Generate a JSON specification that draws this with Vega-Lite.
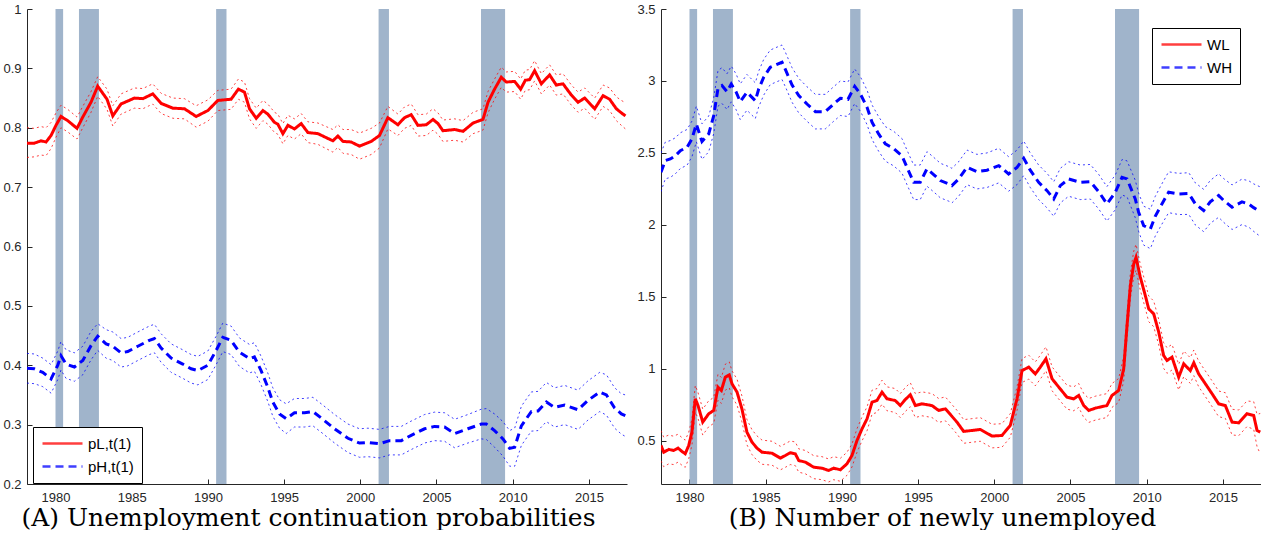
{
  "$schema": "https://vega.github.io/schema/vega-lite/v6.json",
  "background": "white",
  "padding": {"left": 2, "top": 3, "right": 0, "bottom": 0},
  "spacing": 9,
  "resolve": {"scale": {"color": "independent", "strokeDash": "independent"}, "legend": {"color": "independent", "strokeDash": "independent"}},
  "config": {
    "view": {"stroke": null},
    "axis": {
      "grid": false,
      "domainColor": "#262626",
      "tickColor": "#262626",
      "labelColor": "#262626",
      "labelFont": "Liberation Sans",
      "labelFontSize": 13,
      "tickSize": -5,
      "domainWidth": 1,
      "tickWidth": 1,
      "titleFont": "DejaVu Serif",
      "titleFontSize": 25,
      "titleFontWeight": "normal",
      "titleColor": "#000000"
    },
    "legend": {
      "orient": "none",
      "title": null,
      "strokeColor": "#000000",
      "fillColor": "#ffffff",
      "padding": 8,
      "labelFont": "Liberation Sans",
      "labelFontSize": 15,
      "labelColor": "#000000",
      "symbolStrokeWidth": 2.5,
      "symbolSize": 1600,
      "clipHeight": 17,
      "rowPadding": 6,
      "symbolOffset": 0,
      "labelOffset": 4
    }
  },
  "datasets": {
    "rec": [
      {"s": 1980.0, "e": 1980.5},
      {"s": 1981.54, "e": 1982.85},
      {"s": 1990.54, "e": 1991.22},
      {"s": 2001.2, "e": 2001.88},
      {"s": 2007.92, "e": 2009.5}
    ],
    "a": [
      {"g":"L","t":1978.13,"v":0.774,"lo":0.750,"hi":0.800},
      {"g":"L","t":1978.61,"v":0.774,"lo":0.751,"hi":0.799},
      {"g":"L","t":1979.05,"v":0.778,"lo":0.754,"hi":0.802},
      {"g":"L","t":1979.38,"v":0.776,"lo":0.753,"hi":0.800},
      {"g":"L","t":1979.71,"v":0.787,"lo":0.765,"hi":0.809},
      {"g":"L","t":1980.03,"v":0.804,"lo":0.784,"hi":0.825},
      {"g":"L","t":1980.36,"v":0.819,"lo":0.800,"hi":0.838},
      {"g":"L","t":1980.80,"v":0.812,"lo":0.793,"hi":0.831},
      {"g":"L","t":1981.41,"v":0.799,"lo":0.781,"hi":0.818},
      {"g":"L","t":1981.79,"v":0.818,"lo":0.800,"hi":0.836},
      {"g":"L","t":1982.33,"v":0.843,"lo":0.826,"hi":0.861},
      {"g":"L","t":1982.77,"v":0.870,"lo":0.853,"hi":0.886},
      {"g":"L","t":1983.38,"v":0.848,"lo":0.831,"hi":0.865},
      {"g":"L","t":1983.76,"v":0.820,"lo":0.803,"hi":0.837},
      {"g":"L","t":1984.30,"v":0.840,"lo":0.823,"hi":0.857},
      {"g":"L","t":1985.18,"v":0.850,"lo":0.833,"hi":0.867},
      {"g":"L","t":1985.73,"v":0.849,"lo":0.832,"hi":0.866},
      {"g":"L","t":1986.38,"v":0.857,"lo":0.840,"hi":0.874},
      {"g":"L","t":1986.93,"v":0.841,"lo":0.824,"hi":0.858},
      {"g":"L","t":1987.70,"v":0.833,"lo":0.816,"hi":0.850},
      {"g":"L","t":1988.46,"v":0.832,"lo":0.815,"hi":0.849},
      {"g":"L","t":1989.23,"v":0.819,"lo":0.801,"hi":0.837},
      {"g":"L","t":1990.00,"v":0.829,"lo":0.811,"hi":0.847},
      {"g":"L","t":1990.65,"v":0.846,"lo":0.829,"hi":0.863},
      {"g":"L","t":1991.52,"v":0.848,"lo":0.831,"hi":0.865},
      {"g":"L","t":1992.00,"v":0.865,"lo":0.848,"hi":0.882},
      {"g":"L","t":1992.40,"v":0.860,"lo":0.843,"hi":0.877},
      {"g":"L","t":1992.73,"v":0.832,"lo":0.815,"hi":0.849},
      {"g":"L","t":1993.17,"v":0.816,"lo":0.799,"hi":0.833},
      {"g":"L","t":1993.61,"v":0.829,"lo":0.812,"hi":0.846},
      {"g":"L","t":1993.93,"v":0.823,"lo":0.806,"hi":0.840},
      {"g":"L","t":1994.37,"v":0.809,"lo":0.792,"hi":0.826},
      {"g":"L","t":1994.59,"v":0.806,"lo":0.789,"hi":0.823},
      {"g":"L","t":1994.92,"v":0.790,"lo":0.773,"hi":0.807},
      {"g":"L","t":1995.25,"v":0.804,"lo":0.787,"hi":0.821},
      {"g":"L","t":1995.68,"v":0.798,"lo":0.781,"hi":0.815},
      {"g":"L","t":1996.12,"v":0.807,"lo":0.790,"hi":0.824},
      {"g":"L","t":1996.56,"v":0.792,"lo":0.775,"hi":0.810},
      {"g":"L","t":1997.22,"v":0.790,"lo":0.772,"hi":0.808},
      {"g":"L","t":1998.20,"v":0.778,"lo":0.759,"hi":0.797},
      {"g":"L","t":1998.53,"v":0.786,"lo":0.767,"hi":0.805},
      {"g":"L","t":1998.86,"v":0.777,"lo":0.757,"hi":0.797},
      {"g":"L","t":1999.40,"v":0.776,"lo":0.755,"hi":0.797},
      {"g":"L","t":1999.95,"v":0.769,"lo":0.747,"hi":0.791},
      {"g":"L","t":2000.72,"v":0.777,"lo":0.755,"hi":0.799},
      {"g":"L","t":2001.26,"v":0.787,"lo":0.766,"hi":0.808},
      {"g":"L","t":2001.81,"v":0.817,"lo":0.798,"hi":0.836},
      {"g":"L","t":2002.47,"v":0.805,"lo":0.787,"hi":0.823},
      {"g":"L","t":2002.90,"v":0.817,"lo":0.799,"hi":0.835},
      {"g":"L","t":2003.34,"v":0.822,"lo":0.804,"hi":0.840},
      {"g":"L","t":2003.78,"v":0.804,"lo":0.786,"hi":0.822},
      {"g":"L","t":2004.33,"v":0.805,"lo":0.787,"hi":0.823},
      {"g":"L","t":2004.77,"v":0.814,"lo":0.796,"hi":0.832},
      {"g":"L","t":2005.10,"v":0.807,"lo":0.789,"hi":0.825},
      {"g":"L","t":2005.42,"v":0.795,"lo":0.777,"hi":0.813},
      {"g":"L","t":2006.19,"v":0.797,"lo":0.779,"hi":0.815},
      {"g":"L","t":2006.74,"v":0.794,"lo":0.776,"hi":0.812},
      {"g":"L","t":2007.40,"v":0.808,"lo":0.790,"hi":0.826},
      {"g":"L","t":2008.05,"v":0.814,"lo":0.796,"hi":0.832},
      {"g":"L","t":2008.38,"v":0.843,"lo":0.825,"hi":0.861},
      {"g":"L","t":2008.81,"v":0.865,"lo":0.848,"hi":0.882},
      {"g":"L","t":2009.25,"v":0.885,"lo":0.868,"hi":0.902},
      {"g":"L","t":2009.58,"v":0.877,"lo":0.860,"hi":0.894},
      {"g":"L","t":2010.13,"v":0.878,"lo":0.861,"hi":0.895},
      {"g":"L","t":2010.52,"v":0.865,"lo":0.848,"hi":0.882},
      {"g":"L","t":2010.83,"v":0.880,"lo":0.863,"hi":0.897},
      {"g":"L","t":2011.11,"v":0.881,"lo":0.864,"hi":0.898},
      {"g":"L","t":2011.44,"v":0.896,"lo":0.879,"hi":0.913},
      {"g":"L","t":2011.88,"v":0.874,"lo":0.857,"hi":0.891},
      {"g":"L","t":2012.42,"v":0.889,"lo":0.872,"hi":0.906},
      {"g":"L","t":2012.86,"v":0.872,"lo":0.855,"hi":0.889},
      {"g":"L","t":2013.30,"v":0.874,"lo":0.857,"hi":0.891},
      {"g":"L","t":2013.85,"v":0.855,"lo":0.838,"hi":0.872},
      {"g":"L","t":2014.29,"v":0.843,"lo":0.826,"hi":0.860},
      {"g":"L","t":2014.72,"v":0.850,"lo":0.833,"hi":0.867},
      {"g":"L","t":2015.38,"v":0.832,"lo":0.814,"hi":0.850},
      {"g":"L","t":2015.93,"v":0.854,"lo":0.836,"hi":0.872},
      {"g":"L","t":2016.36,"v":0.848,"lo":0.829,"hi":0.867},
      {"g":"L","t":2016.80,"v":0.832,"lo":0.812,"hi":0.852},
      {"g":"L","t":2017.13,"v":0.825,"lo":0.804,"hi":0.846},
      {"g":"L","t":2017.40,"v":0.820,"lo":0.798,"hi":0.842},
      {"g":"H","t":1978.13,"v":0.395,"lo":0.370,"hi":0.420},
      {"g":"H","t":1978.61,"v":0.394,"lo":0.369,"hi":0.419},
      {"g":"H","t":1979.16,"v":0.388,"lo":0.364,"hi":0.412},
      {"g":"H","t":1979.71,"v":0.377,"lo":0.353,"hi":0.401},
      {"g":"H","t":1980.15,"v":0.400,"lo":0.376,"hi":0.424},
      {"g":"H","t":1980.36,"v":0.416,"lo":0.392,"hi":0.440},
      {"g":"H","t":1980.69,"v":0.402,"lo":0.378,"hi":0.426},
      {"g":"H","t":1981.24,"v":0.397,"lo":0.373,"hi":0.421},
      {"g":"H","t":1981.79,"v":0.408,"lo":0.384,"hi":0.432},
      {"g":"H","t":1982.33,"v":0.433,"lo":0.409,"hi":0.457},
      {"g":"H","t":1982.77,"v":0.449,"lo":0.425,"hi":0.470},
      {"g":"H","t":1983.32,"v":0.436,"lo":0.412,"hi":0.460},
      {"g":"H","t":1983.76,"v":0.432,"lo":0.408,"hi":0.456},
      {"g":"H","t":1984.30,"v":0.421,"lo":0.397,"hi":0.445},
      {"g":"H","t":1984.74,"v":0.423,"lo":0.399,"hi":0.447},
      {"g":"H","t":1985.40,"v":0.432,"lo":0.408,"hi":0.456},
      {"g":"H","t":1986.16,"v":0.442,"lo":0.418,"hi":0.466},
      {"g":"H","t":1986.49,"v":0.445,"lo":0.421,"hi":0.469},
      {"g":"H","t":1986.93,"v":0.429,"lo":0.405,"hi":0.453},
      {"g":"H","t":1987.59,"v":0.412,"lo":0.388,"hi":0.436},
      {"g":"H","t":1988.35,"v":0.402,"lo":0.378,"hi":0.426},
      {"g":"H","t":1988.90,"v":0.394,"lo":0.370,"hi":0.418},
      {"g":"H","t":1989.34,"v":0.391,"lo":0.367,"hi":0.415},
      {"g":"H","t":1990.00,"v":0.400,"lo":0.376,"hi":0.424},
      {"g":"H","t":1990.54,"v":0.425,"lo":0.401,"hi":0.449},
      {"g":"H","t":1990.98,"v":0.447,"lo":0.423,"hi":0.471},
      {"g":"H","t":1991.52,"v":0.442,"lo":0.418,"hi":0.466},
      {"g":"H","t":1992.07,"v":0.422,"lo":0.398,"hi":0.446},
      {"g":"H","t":1992.73,"v":0.411,"lo":0.387,"hi":0.435},
      {"g":"H","t":1993.05,"v":0.414,"lo":0.390,"hi":0.438},
      {"g":"H","t":1993.49,"v":0.391,"lo":0.367,"hi":0.415},
      {"g":"H","t":1993.93,"v":0.363,"lo":0.339,"hi":0.387},
      {"g":"H","t":1994.26,"v":0.338,"lo":0.314,"hi":0.362},
      {"g":"H","t":1994.70,"v":0.318,"lo":0.294,"hi":0.342},
      {"g":"H","t":1995.14,"v":0.310,"lo":0.285,"hi":0.335},
      {"g":"H","t":1995.68,"v":0.320,"lo":0.296,"hi":0.344},
      {"g":"H","t":1996.34,"v":0.320,"lo":0.296,"hi":0.344},
      {"g":"H","t":1996.89,"v":0.322,"lo":0.298,"hi":0.346},
      {"g":"H","t":1997.54,"v":0.309,"lo":0.285,"hi":0.333},
      {"g":"H","t":1998.31,"v":0.293,"lo":0.269,"hi":0.317},
      {"g":"H","t":1999.19,"v":0.277,"lo":0.253,"hi":0.301},
      {"g":"H","t":1999.95,"v":0.269,"lo":0.245,"hi":0.293},
      {"g":"H","t":2000.50,"v":0.270,"lo":0.246,"hi":0.294},
      {"g":"H","t":2001.26,"v":0.268,"lo":0.244,"hi":0.292},
      {"g":"H","t":2001.92,"v":0.273,"lo":0.249,"hi":0.297},
      {"g":"H","t":2002.69,"v":0.273,"lo":0.249,"hi":0.297},
      {"g":"H","t":2003.34,"v":0.282,"lo":0.258,"hi":0.306},
      {"g":"H","t":2004.22,"v":0.293,"lo":0.269,"hi":0.317},
      {"g":"H","t":2004.87,"v":0.297,"lo":0.273,"hi":0.321},
      {"g":"H","t":2005.53,"v":0.296,"lo":0.272,"hi":0.320},
      {"g":"H","t":2006.19,"v":0.285,"lo":0.261,"hi":0.309},
      {"g":"H","t":2007.06,"v":0.293,"lo":0.269,"hi":0.317},
      {"g":"H","t":2007.94,"v":0.301,"lo":0.276,"hi":0.326},
      {"g":"H","t":2008.27,"v":0.301,"lo":0.275,"hi":0.327},
      {"g":"H","t":2008.81,"v":0.290,"lo":0.262,"hi":0.318},
      {"g":"H","t":2009.36,"v":0.276,"lo":0.247,"hi":0.305},
      {"g":"H","t":2009.80,"v":0.260,"lo":0.230,"hi":0.290},
      {"g":"H","t":2010.13,"v":0.262,"lo":0.230,"hi":0.294},
      {"g":"H","t":2010.57,"v":0.298,"lo":0.265,"hi":0.331},
      {"g":"H","t":2011.22,"v":0.322,"lo":0.289,"hi":0.355},
      {"g":"H","t":2011.66,"v":0.323,"lo":0.290,"hi":0.356},
      {"g":"H","t":2012.21,"v":0.338,"lo":0.305,"hi":0.371},
      {"g":"H","t":2012.75,"v":0.329,"lo":0.296,"hi":0.362},
      {"g":"H","t":2013.41,"v":0.333,"lo":0.300,"hi":0.366},
      {"g":"H","t":2014.29,"v":0.325,"lo":0.292,"hi":0.358},
      {"g":"H","t":2014.95,"v":0.341,"lo":0.308,"hi":0.374},
      {"g":"H","t":2015.71,"v":0.355,"lo":0.322,"hi":0.388},
      {"g":"H","t":2016.15,"v":0.350,"lo":0.316,"hi":0.384},
      {"g":"H","t":2016.69,"v":0.328,"lo":0.294,"hi":0.362},
      {"g":"H","t":2017.13,"v":0.318,"lo":0.284,"hi":0.352},
      {"g":"H","t":2017.40,"v":0.315,"lo":0.280,"hi":0.350}
    ],
    "b": [
      {"g":"L","t":1978.13,"v":0.468,"lo":0.360,"hi":0.570},
      {"g":"L","t":1978.31,"v":0.421,"lo":0.320,"hi":0.525},
      {"g":"L","t":1978.64,"v":0.440,"lo":0.340,"hi":0.540},
      {"g":"L","t":1978.96,"v":0.433,"lo":0.335,"hi":0.532},
      {"g":"L","t":1979.25,"v":0.449,"lo":0.352,"hi":0.546},
      {"g":"L","t":1979.51,"v":0.426,"lo":0.330,"hi":0.522},
      {"g":"L","t":1979.72,"v":0.410,"lo":0.316,"hi":0.505},
      {"g":"L","t":1979.95,"v":0.468,"lo":0.376,"hi":0.560},
      {"g":"L","t":1980.16,"v":0.560,"lo":0.470,"hi":0.650},
      {"g":"L","t":1980.38,"v":0.792,"lo":0.700,"hi":0.884},
      {"g":"L","t":1980.56,"v":0.745,"lo":0.655,"hi":0.835},
      {"g":"L","t":1980.87,"v":0.630,"lo":0.540,"hi":0.720},
      {"g":"L","t":1981.26,"v":0.688,"lo":0.598,"hi":0.778},
      {"g":"L","t":1981.59,"v":0.711,"lo":0.621,"hi":0.801},
      {"g":"L","t":1981.87,"v":0.873,"lo":0.783,"hi":0.963},
      {"g":"L","t":1982.09,"v":0.850,"lo":0.760,"hi":0.940},
      {"g":"L","t":1982.35,"v":0.942,"lo":0.852,"hi":1.032},
      {"g":"L","t":1982.61,"v":0.958,"lo":0.868,"hi":1.048},
      {"g":"L","t":1982.79,"v":0.896,"lo":0.806,"hi":0.986},
      {"g":"L","t":1983.12,"v":0.838,"lo":0.748,"hi":0.928},
      {"g":"L","t":1983.44,"v":0.722,"lo":0.632,"hi":0.812},
      {"g":"L","t":1983.77,"v":0.560,"lo":0.472,"hi":0.648},
      {"g":"L","t":1984.10,"v":0.491,"lo":0.405,"hi":0.577},
      {"g":"L","t":1984.43,"v":0.449,"lo":0.364,"hi":0.534},
      {"g":"L","t":1984.76,"v":0.421,"lo":0.337,"hi":0.505},
      {"g":"L","t":1985.41,"v":0.414,"lo":0.331,"hi":0.497},
      {"g":"L","t":1985.96,"v":0.380,"lo":0.298,"hi":0.462},
      {"g":"L","t":1986.29,"v":0.398,"lo":0.316,"hi":0.480},
      {"g":"L","t":1986.61,"v":0.417,"lo":0.335,"hi":0.499},
      {"g":"L","t":1986.94,"v":0.410,"lo":0.328,"hi":0.492},
      {"g":"L","t":1987.17,"v":0.363,"lo":0.282,"hi":0.444},
      {"g":"L","t":1987.60,"v":0.352,"lo":0.271,"hi":0.433},
      {"g":"L","t":1988.15,"v":0.317,"lo":0.237,"hi":0.397},
      {"g":"L","t":1988.69,"v":0.310,"lo":0.230,"hi":0.390},
      {"g":"L","t":1989.13,"v":0.294,"lo":0.214,"hi":0.374},
      {"g":"L","t":1989.46,"v":0.310,"lo":0.230,"hi":0.390},
      {"g":"L","t":1989.90,"v":0.299,"lo":0.219,"hi":0.379},
      {"g":"L","t":1990.33,"v":0.340,"lo":0.260,"hi":0.420},
      {"g":"L","t":1990.66,"v":0.398,"lo":0.318,"hi":0.478},
      {"g":"L","t":1990.99,"v":0.502,"lo":0.420,"hi":0.584},
      {"g":"L","t":1991.32,"v":0.583,"lo":0.500,"hi":0.666},
      {"g":"L","t":1991.65,"v":0.653,"lo":0.570,"hi":0.736},
      {"g":"L","t":1991.98,"v":0.769,"lo":0.686,"hi":0.852},
      {"g":"L","t":1992.30,"v":0.780,"lo":0.697,"hi":0.863},
      {"g":"L","t":1992.63,"v":0.838,"lo":0.755,"hi":0.921},
      {"g":"L","t":1992.96,"v":0.792,"lo":0.709,"hi":0.875},
      {"g":"L","t":1993.50,"v":0.780,"lo":0.697,"hi":0.863},
      {"g":"L","t":1993.83,"v":0.745,"lo":0.662,"hi":0.828},
      {"g":"L","t":1994.16,"v":0.787,"lo":0.704,"hi":0.870},
      {"g":"L","t":1994.49,"v":0.820,"lo":0.737,"hi":0.903},
      {"g":"L","t":1994.82,"v":0.745,"lo":0.662,"hi":0.828},
      {"g":"L","t":1995.26,"v":0.757,"lo":0.674,"hi":0.840},
      {"g":"L","t":1995.91,"v":0.745,"lo":0.662,"hi":0.828},
      {"g":"L","t":1996.35,"v":0.711,"lo":0.628,"hi":0.794},
      {"g":"L","t":1996.79,"v":0.722,"lo":0.639,"hi":0.805},
      {"g":"L","t":1997.22,"v":0.670,"lo":0.588,"hi":0.752},
      {"g":"L","t":1997.55,"v":0.630,"lo":0.548,"hi":0.712},
      {"g":"L","t":1997.99,"v":0.565,"lo":0.483,"hi":0.647},
      {"g":"L","t":1998.53,"v":0.572,"lo":0.490,"hi":0.654},
      {"g":"L","t":1999.08,"v":0.579,"lo":0.497,"hi":0.661},
      {"g":"L","t":1999.85,"v":0.533,"lo":0.451,"hi":0.615},
      {"g":"L","t":2000.50,"v":0.537,"lo":0.455,"hi":0.619},
      {"g":"L","t":2001.05,"v":0.607,"lo":0.525,"hi":0.689},
      {"g":"L","t":2001.49,"v":0.792,"lo":0.710,"hi":0.874},
      {"g":"L","t":2001.82,"v":0.988,"lo":0.905,"hi":1.071},
      {"g":"L","t":2002.26,"v":1.012,"lo":0.929,"hi":1.095},
      {"g":"L","t":2002.69,"v":0.965,"lo":0.882,"hi":1.048},
      {"g":"L","t":2003.02,"v":1.012,"lo":0.929,"hi":1.095},
      {"g":"L","t":2003.39,"v":1.070,"lo":0.987,"hi":1.153},
      {"g":"L","t":2003.79,"v":0.931,"lo":0.848,"hi":1.014},
      {"g":"L","t":2004.23,"v":0.873,"lo":0.790,"hi":0.956},
      {"g":"L","t":2004.77,"v":0.803,"lo":0.720,"hi":0.886},
      {"g":"L","t":2005.21,"v":0.792,"lo":0.709,"hi":0.875},
      {"g":"L","t":2005.54,"v":0.815,"lo":0.732,"hi":0.898},
      {"g":"L","t":2005.87,"v":0.745,"lo":0.662,"hi":0.828},
      {"g":"L","t":2006.20,"v":0.711,"lo":0.628,"hi":0.794},
      {"g":"L","t":2006.63,"v":0.727,"lo":0.644,"hi":0.810},
      {"g":"L","t":2006.96,"v":0.735,"lo":0.652,"hi":0.818},
      {"g":"L","t":2007.39,"v":0.745,"lo":0.662,"hi":0.828},
      {"g":"L","t":2007.72,"v":0.815,"lo":0.732,"hi":0.898},
      {"g":"L","t":2008.16,"v":0.850,"lo":0.767,"hi":0.933},
      {"g":"L","t":2008.49,"v":1.000,"lo":0.915,"hi":1.085},
      {"g":"L","t":2008.71,"v":1.301,"lo":1.214,"hi":1.388},
      {"g":"L","t":2008.93,"v":1.579,"lo":1.490,"hi":1.668},
      {"g":"L","t":2009.15,"v":1.729,"lo":1.640,"hi":1.818},
      {"g":"L","t":2009.30,"v":1.775,"lo":1.685,"hi":1.865},
      {"g":"L","t":2009.58,"v":1.637,"lo":1.547,"hi":1.727},
      {"g":"L","t":2009.91,"v":1.509,"lo":1.420,"hi":1.598},
      {"g":"L","t":2010.13,"v":1.417,"lo":1.328,"hi":1.506},
      {"g":"L","t":2010.46,"v":1.382,"lo":1.293,"hi":1.471},
      {"g":"L","t":2010.79,"v":1.255,"lo":1.166,"hi":1.344},
      {"g":"L","t":2011.11,"v":1.093,"lo":1.004,"hi":1.182},
      {"g":"L","t":2011.33,"v":1.058,"lo":0.969,"hi":1.147},
      {"g":"L","t":2011.66,"v":1.081,"lo":0.992,"hi":1.170},
      {"g":"L","t":2012.10,"v":0.942,"lo":0.853,"hi":1.031},
      {"g":"L","t":2012.43,"v":1.035,"lo":0.946,"hi":1.124},
      {"g":"L","t":2012.86,"v":0.988,"lo":0.899,"hi":1.077},
      {"g":"L","t":2013.09,"v":1.042,"lo":0.953,"hi":1.131},
      {"g":"L","t":2013.41,"v":0.965,"lo":0.876,"hi":1.054},
      {"g":"L","t":2013.85,"v":0.896,"lo":0.807,"hi":0.985},
      {"g":"L","t":2014.29,"v":0.827,"lo":0.738,"hi":0.916},
      {"g":"L","t":2014.72,"v":0.757,"lo":0.668,"hi":0.846},
      {"g":"L","t":2015.16,"v":0.745,"lo":0.656,"hi":0.834},
      {"g":"L","t":2015.60,"v":0.630,"lo":0.541,"hi":0.719},
      {"g":"L","t":2016.04,"v":0.625,"lo":0.536,"hi":0.714},
      {"g":"L","t":2016.58,"v":0.688,"lo":0.599,"hi":0.777},
      {"g":"L","t":2017.02,"v":0.676,"lo":0.580,"hi":0.772},
      {"g":"L","t":2017.24,"v":0.572,"lo":0.460,"hi":0.684},
      {"g":"L","t":2017.45,"v":0.560,"lo":0.410,"hi":0.690},
      {"g":"H","t":1978.13,"v":2.366,"lo":2.231,"hi":2.500},
      {"g":"H","t":1978.41,"v":2.447,"lo":2.320,"hi":2.575},
      {"g":"H","t":1978.74,"v":2.458,"lo":2.330,"hi":2.586},
      {"g":"H","t":1979.07,"v":2.480,"lo":2.355,"hi":2.605},
      {"g":"H","t":1979.40,"v":2.516,"lo":2.392,"hi":2.640},
      {"g":"H","t":1979.84,"v":2.539,"lo":2.415,"hi":2.663},
      {"g":"H","t":1980.16,"v":2.597,"lo":2.473,"hi":2.721},
      {"g":"H","t":1980.45,"v":2.701,"lo":2.577,"hi":2.825},
      {"g":"H","t":1980.82,"v":2.579,"lo":2.455,"hi":2.703},
      {"g":"H","t":1981.26,"v":2.632,"lo":2.508,"hi":2.756},
      {"g":"H","t":1981.59,"v":2.759,"lo":2.635,"hi":2.883},
      {"g":"H","t":1981.87,"v":2.949,"lo":2.825,"hi":3.073},
      {"g":"H","t":1982.13,"v":2.968,"lo":2.844,"hi":3.092},
      {"g":"H","t":1982.46,"v":2.926,"lo":2.802,"hi":3.050},
      {"g":"H","t":1982.74,"v":2.979,"lo":2.855,"hi":3.103},
      {"g":"H","t":1983.05,"v":2.926,"lo":2.802,"hi":3.050},
      {"g":"H","t":1983.33,"v":2.856,"lo":2.732,"hi":2.980},
      {"g":"H","t":1983.77,"v":2.921,"lo":2.797,"hi":3.045},
      {"g":"H","t":1984.32,"v":2.863,"lo":2.739,"hi":2.987},
      {"g":"H","t":1984.54,"v":2.944,"lo":2.820,"hi":3.068},
      {"g":"H","t":1984.87,"v":3.026,"lo":2.902,"hi":3.150},
      {"g":"H","t":1985.30,"v":3.095,"lo":2.975,"hi":3.215},
      {"g":"H","t":1985.63,"v":3.110,"lo":2.990,"hi":3.230},
      {"g":"H","t":1986.07,"v":3.130,"lo":3.010,"hi":3.250},
      {"g":"H","t":1986.29,"v":3.080,"lo":2.960,"hi":3.200},
      {"g":"H","t":1986.73,"v":2.972,"lo":2.852,"hi":3.092},
      {"g":"H","t":1987.17,"v":2.898,"lo":2.778,"hi":3.018},
      {"g":"H","t":1987.71,"v":2.840,"lo":2.720,"hi":2.960},
      {"g":"H","t":1988.26,"v":2.787,"lo":2.667,"hi":2.907},
      {"g":"H","t":1988.91,"v":2.787,"lo":2.667,"hi":2.907},
      {"g":"H","t":1989.46,"v":2.840,"lo":2.720,"hi":2.960},
      {"g":"H","t":1989.90,"v":2.880,"lo":2.760,"hi":3.000},
      {"g":"H","t":1990.40,"v":2.873,"lo":2.753,"hi":2.993},
      {"g":"H","t":1990.84,"v":2.963,"lo":2.843,"hi":3.083},
      {"g":"H","t":1991.21,"v":2.910,"lo":2.790,"hi":3.030},
      {"g":"H","t":1991.65,"v":2.817,"lo":2.697,"hi":2.937},
      {"g":"H","t":1991.98,"v":2.713,"lo":2.593,"hi":2.833},
      {"g":"H","t":1992.41,"v":2.632,"lo":2.512,"hi":2.752},
      {"g":"H","t":1992.85,"v":2.563,"lo":2.443,"hi":2.683},
      {"g":"H","t":1993.40,"v":2.530,"lo":2.410,"hi":2.650},
      {"g":"H","t":1993.94,"v":2.480,"lo":2.360,"hi":2.600},
      {"g":"H","t":1994.27,"v":2.400,"lo":2.280,"hi":2.520},
      {"g":"H","t":1994.71,"v":2.296,"lo":2.176,"hi":2.416},
      {"g":"H","t":1995.14,"v":2.296,"lo":2.176,"hi":2.416},
      {"g":"H","t":1995.58,"v":2.389,"lo":2.269,"hi":2.509},
      {"g":"H","t":1996.02,"v":2.350,"lo":2.230,"hi":2.470},
      {"g":"H","t":1996.46,"v":2.308,"lo":2.188,"hi":2.428},
      {"g":"H","t":1997.01,"v":2.285,"lo":2.165,"hi":2.405},
      {"g":"H","t":1997.22,"v":2.273,"lo":2.153,"hi":2.393},
      {"g":"H","t":1997.66,"v":2.319,"lo":2.199,"hi":2.439},
      {"g":"H","t":1998.21,"v":2.400,"lo":2.280,"hi":2.520},
      {"g":"H","t":1998.86,"v":2.370,"lo":2.250,"hi":2.490},
      {"g":"H","t":1999.52,"v":2.380,"lo":2.260,"hi":2.500},
      {"g":"H","t":2000.29,"v":2.412,"lo":2.292,"hi":2.532},
      {"g":"H","t":2000.94,"v":2.354,"lo":2.234,"hi":2.474},
      {"g":"H","t":2001.49,"v":2.400,"lo":2.280,"hi":2.520},
      {"g":"H","t":2001.93,"v":2.463,"lo":2.343,"hi":2.583},
      {"g":"H","t":2002.36,"v":2.380,"lo":2.260,"hi":2.500},
      {"g":"H","t":2002.91,"v":2.296,"lo":2.176,"hi":2.416},
      {"g":"H","t":2003.46,"v":2.238,"lo":2.118,"hi":2.358},
      {"g":"H","t":2003.90,"v":2.180,"lo":2.060,"hi":2.300},
      {"g":"H","t":2004.33,"v":2.273,"lo":2.153,"hi":2.393},
      {"g":"H","t":2004.88,"v":2.319,"lo":2.199,"hi":2.439},
      {"g":"H","t":2005.64,"v":2.296,"lo":2.176,"hi":2.416},
      {"g":"H","t":2006.30,"v":2.300,"lo":2.180,"hi":2.420},
      {"g":"H","t":2006.85,"v":2.231,"lo":2.111,"hi":2.351},
      {"g":"H","t":2007.39,"v":2.146,"lo":2.026,"hi":2.266},
      {"g":"H","t":2007.94,"v":2.227,"lo":2.107,"hi":2.347},
      {"g":"H","t":2008.38,"v":2.331,"lo":2.208,"hi":2.454},
      {"g":"H","t":2008.71,"v":2.320,"lo":2.195,"hi":2.445},
      {"g":"H","t":2009.25,"v":2.180,"lo":2.050,"hi":2.310},
      {"g":"H","t":2009.47,"v":2.088,"lo":1.955,"hi":2.221},
      {"g":"H","t":2009.80,"v":1.995,"lo":1.860,"hi":2.130},
      {"g":"H","t":2010.24,"v":1.972,"lo":1.835,"hi":2.109},
      {"g":"H","t":2010.56,"v":2.060,"lo":1.922,"hi":2.198},
      {"g":"H","t":2011.00,"v":2.146,"lo":2.006,"hi":2.286},
      {"g":"H","t":2011.44,"v":2.227,"lo":2.085,"hi":2.369},
      {"g":"H","t":2012.10,"v":2.215,"lo":2.072,"hi":2.358},
      {"g":"H","t":2012.76,"v":2.218,"lo":2.073,"hi":2.363},
      {"g":"H","t":2013.19,"v":2.146,"lo":2.000,"hi":2.292},
      {"g":"H","t":2013.74,"v":2.100,"lo":1.953,"hi":2.247},
      {"g":"H","t":2014.17,"v":2.160,"lo":2.011,"hi":2.309},
      {"g":"H","t":2014.72,"v":2.204,"lo":2.053,"hi":2.355},
      {"g":"H","t":2015.05,"v":2.170,"lo":2.018,"hi":2.322},
      {"g":"H","t":2015.60,"v":2.123,"lo":1.968,"hi":2.278},
      {"g":"H","t":2016.25,"v":2.160,"lo":2.002,"hi":2.318},
      {"g":"H","t":2016.69,"v":2.146,"lo":1.985,"hi":2.307},
      {"g":"H","t":2017.02,"v":2.120,"lo":1.955,"hi":2.285},
      {"g":"H","t":2017.45,"v":2.092,"lo":1.920,"hi":2.264}
    ]
  },
  "hconcat": [
    {
      "width": 600,
      "height": 475,
      "layer": [
        {
          "data": {"name": "rec"},
          "mark": {"type": "rect", "color": "#a0b4cb"},
          "encoding": {
            "x": {"field": "s", "type": "quantitative",
                  "scale": {"domain": [1978.13, 2017.5], "nice": false, "zero": false},
                  "axis": {"values": [1980, 1985, 1990, 1995, 2000, 2005, 2010, 2015], "format": "d", "labelPadding": 12, "title": "(A) Unemployment continuation probabilities", "titlePadding": 1, "titleX": 281}},
            "x2": {"field": "e"}
          }
        },
        {
          "data": {"name": "a"},
          "mark": {"type": "line", "strokeWidth": 1, "strokeDash": [2, 3], "opacity": 0.75, "clip": true},
          "encoding": {
            "x": {"field": "t", "type": "quantitative"},
            "y": {"field": "lo", "type": "quantitative",
                  "scale": {"domain": [0.2, 1], "nice": false, "zero": false},
                  "axis": {"values": [0.2, 0.3, 0.4, 0.5, 0.6, 0.7, 0.8, 0.9, 1], "format": "~g", "labelPadding": 11, "title": null}},
            "color": {"field": "g", "type": "nominal", "scale": {"domain": ["L", "H"], "range": ["#ff0000", "#0000ff"]}}
          }
        },
        {
          "data": {"name": "a"},
          "mark": {"type": "line", "strokeWidth": 1, "strokeDash": [2, 3], "opacity": 0.75, "clip": true},
          "encoding": {
            "x": {"field": "t", "type": "quantitative"},
            "y": {"field": "hi", "type": "quantitative"},
            "color": {"field": "g", "type": "nominal"}
          }
        },
        {
          "data": {"name": "a"},
          "mark": {"type": "line", "strokeWidth": 3, "clip": true},
          "encoding": {
            "x": {"field": "t", "type": "quantitative"},
            "y": {"field": "v", "type": "quantitative"},
            "color": {"field": "g", "type": "nominal",
                      "legend": {"labelExpr": "datum.label == 'L' ? 'pL,t(1)' : 'pH,t(1)'", "legendX": 6, "legendY": 418}},
            "strokeDash": {"field": "g", "type": "nominal", "scale": {"domain": ["L", "H"], "range": [[1, 0], [8, 5]]},
                      "legend": {"labelExpr": "datum.label == 'L' ? 'pL,t(1)' : 'pH,t(1)'", "legendX": 6, "legendY": 418}}
          }
        }
      ]
    },
    {
      "width": 600,
      "height": 475,
      "layer": [
        {
          "data": {"name": "rec"},
          "mark": {"type": "rect", "color": "#a0b4cb"},
          "encoding": {
            "x": {"field": "s", "type": "quantitative",
                  "scale": {"domain": [1978.13, 2017.5], "nice": false, "zero": false},
                  "axis": {"values": [1980, 1985, 1990, 1995, 2000, 2005, 2010, 2015], "format": "d", "labelPadding": 12, "title": "(B) Number of newly unemployed", "titlePadding": 1, "titleX": 281}},
            "x2": {"field": "e"}
          }
        },
        {
          "data": {"name": "b"},
          "mark": {"type": "line", "strokeWidth": 1, "strokeDash": [2, 3], "opacity": 0.75, "clip": true},
          "encoding": {
            "x": {"field": "t", "type": "quantitative"},
            "y": {"field": "lo", "type": "quantitative",
                  "scale": {"domain": [0.2, 3.5], "nice": false, "zero": false},
                  "axis": {"values": [0.5, 1, 1.5, 2, 2.5, 3, 3.5], "format": "~g", "labelPadding": 11, "title": null}},
            "color": {"field": "g", "type": "nominal", "scale": {"domain": ["L", "H"], "range": ["#ff0000", "#0000ff"]}}
          }
        },
        {
          "data": {"name": "b"},
          "mark": {"type": "line", "strokeWidth": 1, "strokeDash": [2, 3], "opacity": 0.75, "clip": true},
          "encoding": {
            "x": {"field": "t", "type": "quantitative"},
            "y": {"field": "hi", "type": "quantitative"},
            "color": {"field": "g", "type": "nominal"}
          }
        },
        {
          "data": {"name": "b"},
          "mark": {"type": "line", "strokeWidth": 3, "clip": true},
          "encoding": {
            "x": {"field": "t", "type": "quantitative"},
            "y": {"field": "v", "type": "quantitative"},
            "color": {"field": "g", "type": "nominal",
                      "legend": {"labelExpr": "datum.label == 'L' ? 'WL' : 'WH'", "legendX": 491, "legendY": 19}},
            "strokeDash": {"field": "g", "type": "nominal", "scale": {"domain": ["L", "H"], "range": [[1, 0], [8, 5]]},
                      "legend": {"labelExpr": "datum.label == 'L' ? 'WL' : 'WH'", "legendX": 491, "legendY": 19}}
          }
        }
      ]
    }
  ]
}
